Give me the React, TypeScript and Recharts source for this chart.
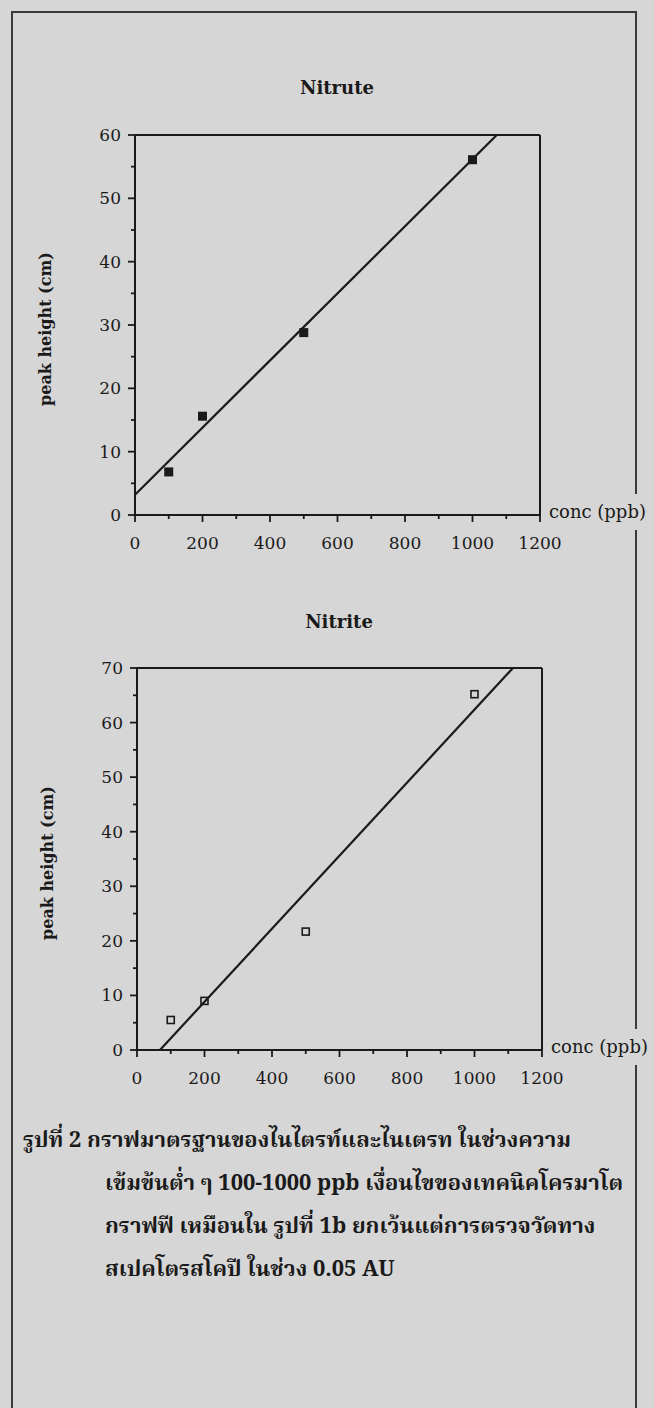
import React from 'react';
import { ComposedChart, Line, Scatter, XAxis, YAxis, ReferenceLine } from 'recharts';

// ---- data ----
const concentrations = [100, 200, 500, 1000];
const nitrateHeights = [6.8, 15.6, 28.8, 56.1];
const nitriteHeights = [5.5, 9.0, 21.7, 65.2];

const nitrateFitX = [0, 1072];
const nitrateFitY = [3.2, 60];
const nitriteFitX = [68, 1114];
const nitriteFitY = [0, 70];

const xTicks = [0, 100, 200, 300, 400, 500, 600, 700, 800, 900, 1000, 1100, 1200];
const nitrateYTicks = [0, 5, 10, 15, 20, 25, 30, 35, 40, 45, 50, 55, 60];
const nitriteYTicks = [0, 5, 10, 15, 20, 25, 30, 35, 40, 45, 50, 55, 60, 65, 70];

const titles = ['Nitrute', 'Nitrite'];
const yAxisTitle = 'peak height (cm)';
const xAxisTitle = 'conc (ppb)';
const captionLines = [
  'รูปที่ 2 กราฟมาตรฐานของไนไตรท์และไนเตรท ในช่วงความ',
  'เข้มข้นต่ำ ๆ 100-1000 ppb เงื่อนไขของเทคนิคโครมาโต',
  'กราฟฟี เหมือนใน รูปที่ 1b ยกเว้นแต่การตรวจวัดทาง',
  'สเปคโตรสโคปี ในช่วง 0.05 AU',
];

const nitratePoints = concentrations.map((x, i) => ({ x, y: nitrateHeights[i] }));
const nitritePoints = concentrations.map((x, i) => ({ x, y: nitriteHeights[i] }));
const nitrateFit = nitrateFitX.map((x, i) => ({ x, y: nitrateFitY[i] }));
const nitriteFit = nitriteFitX.map((x, i) => ({ x, y: nitriteFitY[i] }));

const BG = '#d6d6d6';
const INK = '#1a1a1a';
const SERIF = "'DejaVu Serif', 'Liberation Serif', serif";

const XTick = (props: any) => {
  const { x, y, payload } = props;
  const major = payload.value % 200 === 0;
  return (
    <g>
      <line x1={x} x2={x} y1={y} y2={y + (major ? 7 : 4)} stroke={INK} strokeWidth={1.8} />
      {major && (
        <text x={x} y={y + 34} textAnchor="middle" fontFamily={SERIF} fontSize={17} fill={INK}>
          {payload.value}
        </text>
      )}
    </g>
  );
};

const YTick = (props: any) => {
  const { x, y, payload } = props;
  const major = payload.value % 10 === 0;
  return (
    <g>
      <line x1={x - (major ? 7 : 4)} x2={x} y1={y} y2={y} stroke={INK} strokeWidth={1.8} />
      {major && (
        <text x={x - 14} y={y + 6} textAnchor="end" fontFamily={SERIF} fontSize={17} fill={INK}>
          {payload.value}
        </text>
      )}
    </g>
  );
};

const YLabel = (props: any) => {
  const vb = props.viewBox || {};
  const cx = vb.x + vb.width - 90;
  const cy = vb.y + vb.height / 2 + 4;
  return (
    <text
      x={cx}
      y={cy}
      transform={`rotate(-90, ${cx}, ${cy})`}
      textAnchor="middle"
      dominantBaseline="central"
      fontFamily={SERIF}
      fontWeight="bold"
      fontSize={16}
      fill={INK}
    >
      {yAxisTitle}
    </text>
  );
};

const XLabel = (props: any) => {
  const vb = props.viewBox || {};
  const lx = vb.x + vb.width + 9;
  const ly = vb.y - 3;
  return (
    <g>
      <rect x={lx - 2} y={ly - 18} width={120} height={36} fill={BG} />
      <text x={lx} y={ly + 6} fontFamily={SERIF} fontSize={18} fill={INK}>
        {xAxisTitle}
      </text>
    </g>
  );
};

const FilledSquare = (props: any) => {
  const { cx, cy } = props;
  return <rect x={cx - 4.5} y={cy - 4.5} width={9} height={9} fill={INK} />;
};

const HollowSquare = (props: any) => {
  const { cx, cy } = props;
  return <rect x={cx - 3.5} y={cy - 3.5} width={7} height={7} fill="none" stroke={INK} strokeWidth={1.6} />;
};

type PanelProps = {
  top: number;
  height: number;
  margin: { top: number; right: number; bottom: number; left: number };
  points: { x: number; y: number }[];
  fit: { x: number; y: number }[];
  yMax: number;
  yTicks: number[];
  filled: boolean;
};

const Panel = ({ top, height, margin, points, fit, yMax, yTicks, filled }: PanelProps) => (
  <div style={{ position: 'absolute', left: 0, top, width: 654, height }}>
    <ComposedChart width={654} height={height} margin={margin}>
      <XAxis
        type="number"
        dataKey="x"
        domain={[0, 1200]}
        ticks={xTicks}
        interval={0}
        allowDataOverflow
        height={30}
        tickSize={0}
        tickMargin={0}
        tickLine={false}
        tick={<XTick />}
        axisLine={{ stroke: INK, strokeWidth: 2 }}
        label={<XLabel />}
      />
      <YAxis
        type="number"
        dataKey="y"
        domain={[0, yMax]}
        ticks={yTicks}
        interval={0}
        allowDataOverflow
        width={40}
        tickSize={0}
        tickMargin={0}
        tickLine={false}
        tick={<YTick />}
        axisLine={{ stroke: INK, strokeWidth: 2 }}
        label={<YLabel />}
      />
      <ReferenceLine y={yMax} stroke={INK} strokeWidth={2} />
      <ReferenceLine x={1200} stroke={INK} strokeWidth={2} />
      <Line
        data={fit}
        dataKey="y"
        type="linear"
        stroke={INK}
        strokeWidth={2.2}
        dot={false}
        activeDot={false}
        isAnimationActive={false}
      />
      <Scatter
        data={points}
        dataKey="y"
        shape={filled ? <FilledSquare /> : <HollowSquare />}
        isAnimationActive={false}
      />
    </ComposedChart>
  </div>
);

const titleStyle = (top: number, cx: number): React.CSSProperties => ({
  position: 'absolute',
  top,
  left: cx - 100,
  width: 200,
  textAlign: 'center',
  fontFamily: SERIF,
  fontWeight: 'bold',
  fontSize: 18,
  lineHeight: '20px',
  color: INK,
});

const THAI = "'Noto Serif Thai', 'Noto Sans Thai', 'Loma', 'Garuda', 'Tlwg Typo', 'Norasi', sans-serif";

export default function App() {
  return (
    <div
      style={{
        position: 'absolute',
        left: 0,
        top: 0,
        width: 654,
        height: 1408,
        background: BG,
        overflow: 'hidden',
      }}
    >
      <div
        style={{
          position: 'absolute',
          left: 11,
          top: 11,
          width: 622,
          height: 1420,
          border: '2px solid #3a3a3a',
        }}
      />
      <div style={titleStyle(78, 337)}>{titles[0]}</div>
      <div style={titleStyle(612, 339)}>{titles[1]}</div>

      <Panel
        top={0}
        height={580}
        margin={{ top: 135, right: 114, bottom: 35, left: 95 }}
        points={nitratePoints}
        fit={nitrateFit}
        yMax={60}
        yTicks={nitrateYTicks}
        filled
      />
      <Panel
        top={580}
        height={520}
        margin={{ top: 88, right: 112, bottom: 20, left: 97 }}
        points={nitritePoints}
        fit={nitriteFit}
        yMax={70}
        yTicks={nitriteYTicks}
        filled={false}
      />

      {captionLines.map((line, i) => (
        <div
          key={i}
          style={{
            position: 'absolute',
            left: i === 0 ? 23 : 105,
            top: 1142 + i * 43 - 17,
            whiteSpace: 'nowrap',
            fontFamily: THAI,
            fontWeight: 'bold',
            fontSize: 22,
            lineHeight: '34px',
            color: INK,
          }}
        >
          {line}
        </div>
      ))}
    </div>
  );
}
